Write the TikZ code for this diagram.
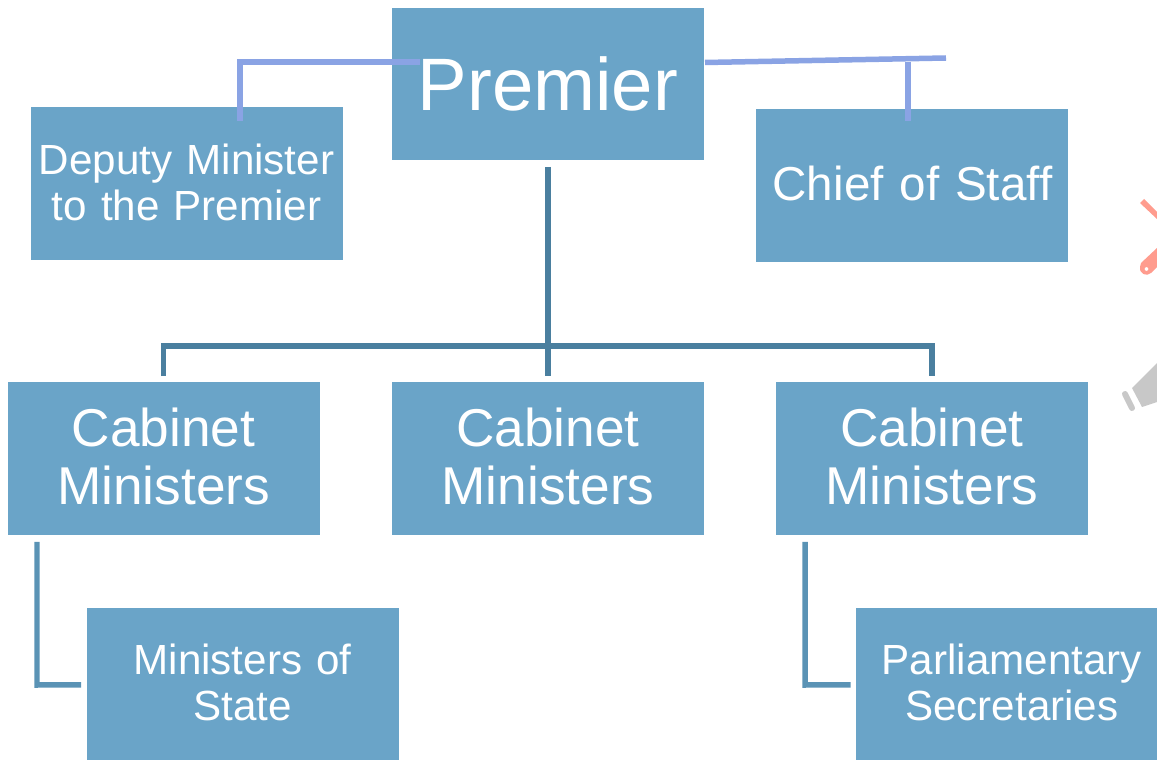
\documentclass[tikz,border=0pt]{standalone}
\usepackage{fontspec}
\setmainfont{Liberation Sans}
\usetikzlibrary{positioning}
\definecolor{boxblue}{HTML}{6AA4C8}
\definecolor{topline}{HTML}{8AA3E4}
\definecolor{trunkline}{HTML}{4A7F9F}
\definecolor{sideline}{HTML}{5A93B5}
\definecolor{scissorpink}{HTML}{FF9C8E}
\definecolor{horngrey}{HTML}{C8C8C8}
\tikzset{office/.style={rectangle, fill=boxblue, text=white, text width=6.2cm, text centered, inner sep=0pt, minimum width=6.24cm, minimum height=3.06cm}}
\tikzset{raised/.style={office, execute at end node={\par\vspace{2.3pt}}}}
\tikzset{premierbox/.style={office, font=\fontsize{42.3}{46}\selectfont}}
\tikzset{cabinet/.style={raised, font=\fontsize{30.3}{33}\selectfont}}
\tikzset{junior/.style={raised, font=\fontsize{24}{26.2}\selectfont}}
\tikzset{line/.style={draw, line width=0.11cm}}
\tikzset{topconn/.style={line, topline}}
\tikzset{trunk/.style={line, trunkline}}
\tikzset{sideconn/.style={line, sideline}}
\begin{document}
\begin{tikzpicture}[x=0.02cm, y=-0.02cm]
        \clip (0,0) rectangle (1157,760);
        \node[premierbox] (premier) at (548,84) {Premier};
        \node[junior, left of=premier, node distance=7.23cm, yshift=-2cm] (deputy) {Deputy Minister\\to the Premier};
        \node[raised, right of=premier, node distance=7.29cm, yshift=-2.04cm, font=\fontsize{27.1}{30}\selectfont] (chief) {Chief of Staff};
        \node[cabinet, below of=premier, node distance=7.5cm] (cabm) {Cabinet\\Ministers};
        \node[cabinet, left of=cabm, node distance=7.69cm] (cabl) {Cabinet\\Ministers};
        \node[cabinet, right of=cabm, node distance=7.68cm] (cabr) {Cabinet\\Ministers};
        \node[junior, below of=cabl, node distance=4.52cm, xshift=1.58cm] (minst) {Ministers of\\State};
        \node[junior, below of=cabr, node distance=4.52cm, xshift=1.6cm] (parl) {Parliamentary\\Secretaries};

        \coordinate (depbend) at (240,62);
        \coordinate (depend) at (420,62);
        \coordinate (chiefstart) at (705,62.5);
        \coordinate (chiefend) at (946,58);
        \coordinate (chiefdrop) at (908,62);
        \coordinate (chieffoot) at (908,121);
        \coordinate (depfoot) at (240,121);
        \coordinate (bus) at (548,346);
        \coordinate (minbend) at (37,685);
        \coordinate (parlbend) at (805,685);

        \path[topconn] (depfoot) -- (depbend) -- (depend);
        \path[topconn] (chiefstart) -- (chiefend);
        \path[topconn] (chiefdrop) -- (chieffoot);
        \path[trunk, shorten <=0.12cm, shorten >=0.12cm] (premier) -- (cabm);
        \path[trunk, shorten <=0.12cm, shorten >=0.12cm] (cabl.north) -- (cabl.north |- bus) -- (cabr.north |- bus) -- (cabr.north);
        \path[sideconn, shorten <=0.12cm, shorten >=0.1cm] (cabl.south -| minbend) -- (minbend) -- (minst.west);
        \path[sideconn, shorten <=0.12cm, shorten >=0.1cm] (cabr.south -| parlbend) -- (parlbend) -- (parl.west);

        \fill[scissorpink] (1140,203) -- (1144,199) -- (1157,212) -- (1157,219) -- cycle;
        \fill[scissorpink, even odd rule] (1157,248) -- (1141,263) -- (1140,267) .. controls (1139,274) and (1147,277) .. (1151,273) -- (1157,267) -- cycle (1146.5,269) circle (2);
        \fill[horngrey] (1132,388) -- (1157,363) -- (1157,402) -- (1142,407) -- cycle;
        \draw[horngrey, line width=0.12cm, line cap=round] (1125,394) -- (1132,408);
      \end{tikzpicture}
\end{document}
